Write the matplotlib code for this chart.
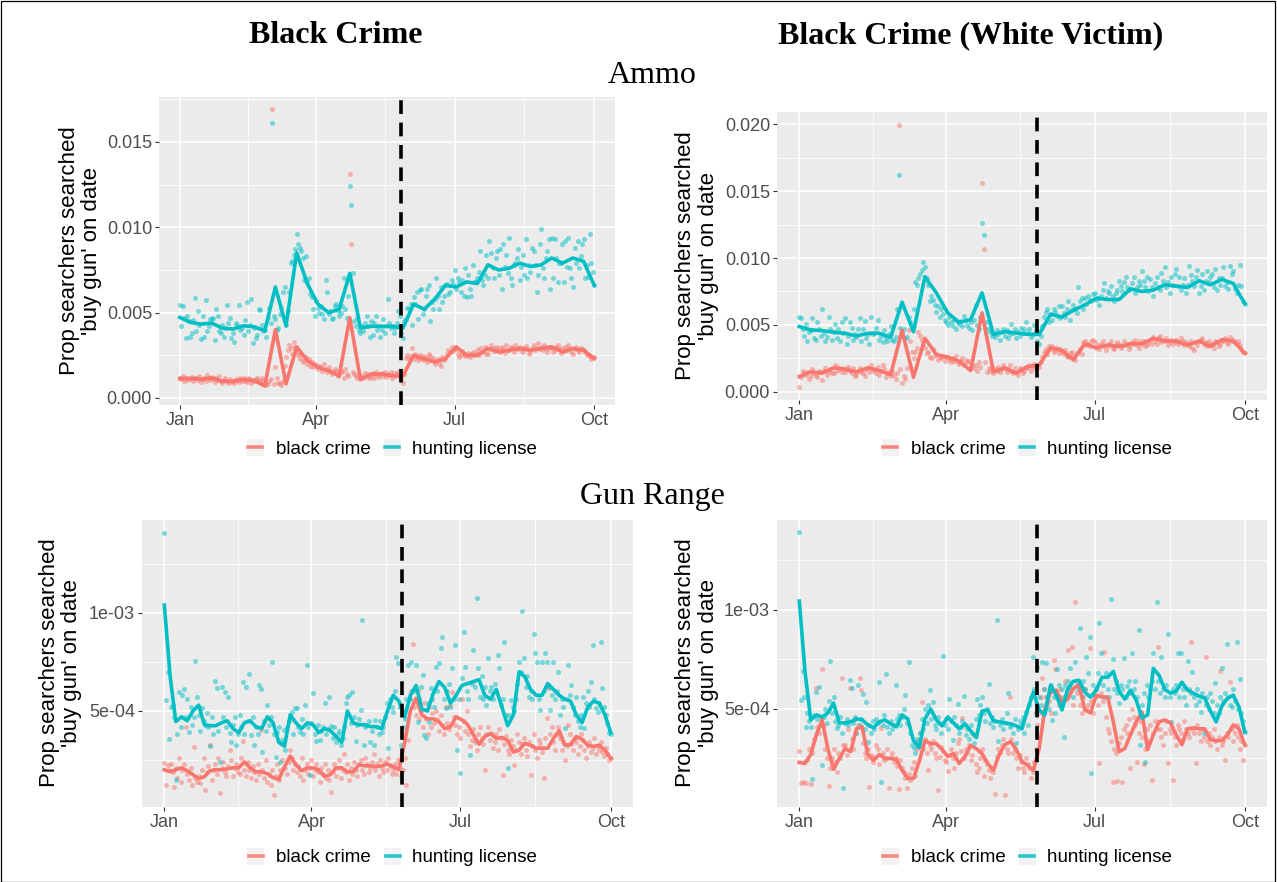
import numpy as np
import matplotlib
matplotlib.use("Agg")
import matplotlib.pyplot as plt
from matplotlib.lines import Line2D
from matplotlib.patches import Rectangle

plt.rcParams['font.family'] = ['Liberation Sans', 'DejaVu Sans']

W, H = 1277, 882
RED = '#F8766D'
CYAN = '#00BFC4'

START = np.datetime64('2015-01-01T00')
EVENT = np.datetime64('2015-05-26T10')

# ---------------- Ammo (units of 1e-5) ----------------
# weekly trend lines, Jan 1 .. Oct 1
ammo_bc_line_black = [114, 114, 110, 118, 98, 98, 108, 102, 70, 400,
                      83, 300, 220, 180, 160, 130, 470, 110, 140, 140,
                      130, 130, 250, 230, 210, 230, 300, 250, 250, 290,
                      270, 280, 290, 280, 290, 300, 270, 290, 280, 230]
ammo_bc_line_hunt = [472, 443, 433, 439, 409, 404, 423, 417, 394, 650,
                     423, 850, 670, 550, 500, 520, 730, 410, 420, 420,
                     420, 410, 550, 520, 580, 660, 650, 680, 670, 780,
                     750, 760, 790, 770, 780, 820, 790, 820, 800, 660]
ammo_bw_line_black = [115, 150, 140, 180, 170, 150, 180, 160, 130, 460,
                      110, 400, 280, 260, 230, 160, 590, 150, 180, 140,
                      190, 200, 330, 310, 240, 360, 330, 350, 340, 360,
                      360, 400, 380, 380, 350, 380, 340, 390, 380, 290]
ammo_bw_line_hunt = [488, 463, 458, 446, 438, 418, 438, 438, 408, 670,
                     450, 860, 740, 590, 520, 540, 740, 430, 450, 440,
                     430, 430, 580, 560, 610, 650, 700, 690, 690, 770,
                     750, 760, 800, 790, 780, 830, 800, 840, 810, 660]

# daily values, Jan 1 .. Oct 1
ammo_bc_daily_hunt = [
    545, 420, 540, 470, 350, 480, 450, 360, 380, 455, 585, 395, 510, 430,
    345, 480, 355, 575, 390, 420, 460, 460, 470, 340, 520, 480, 395, 380,
    430, 360, 410, 545, 440, 470, 350, 380, 330, 440, 430, 545, 400, 410,
    370, 455, 560, 395, 430, 580, 320, 410, 350, 370, 520, 515, 430, 390,
    400, 360, 470, 530, 440, 1610, 480, 460, 400, 410, 490, 530, 620, 650,
    430, 510, 620, 790, 800, 840, 870, 960, 900, 880, 860, 820, 690, 830,
    680, 700, 610, 590, 520, 480, 570, 530, 500, 540, 490, 460, 690, 620,
    490, 510, 460, 470, 540, 550, 510, 480, 500, 540, 700, 520, 470, 600,
    1240, 1130, 730, 450, 420, 470, 400, 380, 420, 390, 440, 480, 420, 360,
    450, 370, 440, 480, 400, 420, 360, 400, 460, 380, 420, 580, 440, 410,
    420, 380, 410, 440, 510, 480, 380, 350, 450, 460, 530, 520, 550, 430,
    590, 550, 620, 460, 630, 640, 490, 520, 600, 640, 660, 450, 560, 520,
    580, 700, 600, 520, 650, 560, 600, 660, 670, 610, 620, 690, 670, 750,
    640, 700, 680, 620, 690, 600, 760, 590, 720, 640, 600, 780, 680, 680,
    700, 740, 860, 690, 660, 720, 840, 700, 920, 850, 760, 700, 820, 860,
    720, 870, 640, 900, 770, 840, 730, 940, 700, 660, 780, 790, 820, 870,
    690, 770, 840, 720, 930, 700, 780, 740, 880, 860, 780, 620, 720, 900,
    990, 760, 700, 820, 860, 930, 640, 940, 700, 930, 820, 680, 790, 790,
    900, 680, 920, 770, 940, 760, 700, 650, 880, 790, 920, 760, 830, 900,
    930, 700, 780, 710, 960, 790, 740, 660]
ammo_bc_daily_black = [
    120, 110, 130, 100, 115, 105, 120, 110, 125, 100, 115, 120, 105, 130,
    95, 110, 120, 100, 135, 115, 105, 125, 110, 95, 120, 105, 130, 100,
    90, 105, 115, 100, 85, 110, 95, 100, 90, 110, 105, 95, 120, 100,
    115, 100, 95, 120, 110, 90, 105, 100, 110, 120, 95, 105, 115, 100,
    90, 75, 80, 100, 110, 1690, 80, 180, 120, 85, 90, 75, 100, 190,
    240, 280, 310, 290, 260, 330, 300, 270, 250, 230, 260, 210, 220, 240,
    200, 230, 190, 210, 180, 200, 190, 170, 190, 180, 160, 200, 170, 150,
    180, 160, 140, 150, 170, 160, 130, 140, 160, 150, 120, 170, 140, 130,
    1310, 900, 150, 140, 130, 120, 140, 110, 130, 120, 145, 125, 140, 115,
    130, 145, 120, 150, 135, 125, 140, 145, 130, 150, 125, 140, 135, 150,
    120, 145, 130, 140, 155, 125, 110, 90, 140, 235, 250, 230, 245, 290,
    230, 260, 240, 220, 250, 230, 245, 225, 240, 210, 260, 245, 220, 235,
    200, 215, 230, 205, 190, 240, 220, 235, 260, 280, 270, 300, 275, 290,
    285, 260, 240, 250, 275, 260, 245, 250, 265, 240, 255, 270, 250, 260,
    280, 250, 290, 270, 275, 300, 260, 260, 285, 310, 290, 275, 300, 280,
    290, 270, 300, 285, 265, 310, 280, 280, 300, 290, 270, 310, 285, 295,
    300, 280, 270, 290, 305, 285, 260, 270, 295, 310, 280, 290, 320, 285,
    300, 280, 310, 290, 270, 295, 300, 290, 270, 280, 300, 310, 285, 265,
    290, 275, 300, 280, 310, 295, 270, 260, 285, 300, 280, 270, 295, 285,
    280, 270, 260, 250, 245, 230, 240, 240]
ammo_bw_daily_hunt = [
    560, 550, 470, 420, 510, 380, 450, 460, 550, 400, 390, 520, 470, 420,
    620, 440, 380, 410, 560, 470, 390, 450, 510, 400, 470, 380, 520, 440,
    550, 360, 420, 520, 480, 390, 430, 410, 470, 550, 380, 470, 530, 400,
    430, 360, 560, 430, 440, 480, 540, 390, 420, 370, 460, 400, 380, 430,
    490, 390, 380, 410, 620, 1620, 480, 440, 470, 400, 410, 560, 520, 480,
    620, 820, 800, 850, 880, 910, 970, 930, 850, 800, 680, 720, 690, 650,
    600, 640, 560, 620, 580, 540, 520, 500, 560, 520, 490, 540, 470, 520,
    510, 530, 490, 570, 540, 500, 480, 520, 460, 540, 650, 500, 470, 560,
    1260, 1170, 480, 520, 470, 450, 420, 440, 410, 460, 430, 390, 450, 470,
    420, 460, 400, 430, 510, 440, 470, 400, 450, 420, 480, 440, 470, 520,
    440, 470, 410, 430, 500, 460, 380, 360, 420, 490, 560, 600, 620, 520,
    580, 540, 620, 600, 570, 640, 550, 640, 590, 560, 620, 680, 540, 610,
    650, 620, 590, 780, 680, 700, 620, 700, 660, 720, 690, 680, 730, 740,
    690, 700, 650, 720, 760, 810, 700, 750, 740, 790, 720, 680, 740, 760,
    830, 790, 750, 820, 860, 780, 760, 770, 810, 860, 740, 780, 830, 800,
    900, 830, 780, 860, 750, 840, 780, 720, 810, 860, 780, 760, 890, 830,
    930, 780, 820, 740, 860, 800, 880, 920, 790, 860, 760, 800, 850, 740,
    800, 940, 870, 830, 790, 860, 910, 740, 790, 880, 760, 830, 900, 820,
    860, 880, 780, 920, 760, 850, 800, 850, 930, 790, 820, 770, 940, 880,
    900, 770, 740, 800, 950, 790, 680, 660]
ammo_bw_daily_black = [
    40, 110, 160, 140, 130, 150, 100, 120, 170, 140, 130, 110, 160, 150,
    90, 160, 180, 130, 150, 170, 140, 140, 200, 160, 190, 170, 150, 180,
    150, 170, 190, 160, 140, 180, 120, 130, 160, 180, 150, 140, 120, 170,
    180, 150, 200, 160, 170, 140, 190, 130, 160, 200, 170, 110, 140, 150,
    120, 160, 130, 100, 140, 1990, 170, 70, 120, 100, 180, 460, 380, 300,
    250, 300, 330, 450, 420, 390, 360, 330, 290, 300, 260, 250, 320, 270,
    280, 240, 260, 250, 270, 230, 260, 260, 240, 220, 250, 230, 270, 220,
    210, 230, 250, 200, 240, 220, 230, 190, 210, 180, 200, 160, 220, 190,
    1560, 1070, 220, 150, 180, 160, 190, 140, 170, 160, 190, 150, 170, 200,
    180, 150, 170, 200, 160, 140, 180, 150, 130, 180, 170, 140, 160, 190,
    180, 200, 160, 190, 210, 170, 200, 190, 220, 260, 300, 320, 280, 340,
    320, 340, 300, 310, 330, 290, 320, 300, 280, 310, 270, 260, 290, 300,
    270, 240, 290, 300, 320, 280, 370, 380, 350, 360, 340, 380, 390, 370,
    330, 350, 320, 360, 380, 340, 310, 340, 360, 380, 330, 320, 350, 370,
    360, 330, 340, 380, 350, 360, 320, 340, 370, 360, 390, 350, 330, 380,
    360, 380, 340, 350, 370, 390, 360, 410, 380, 360, 400, 420, 370, 390,
    380, 400, 350, 370, 390, 360, 380, 390, 360, 370, 400, 380, 350, 370,
    360, 340, 380, 330, 310, 370, 350, 380, 390, 400, 360, 370, 340, 380,
    350, 360, 330, 380, 370, 340, 360, 390, 380, 400, 370, 360, 410, 380,
    390, 370, 360, 380, 350, 320, 300, 290]

# ---------------- Gun Range (units of 1e-6) ----------------
# half-weekly trend lines, Jan 1 .. Oct 1
gun_bc_line_black = [200, 190, 200, 210, 195, 175, 155, 165, 195, 200,
                     200, 205, 210, 210, 240, 210, 190, 190, 180, 160,
                     150, 215, 270, 225, 195, 210, 210, 200, 165, 175,
                     210, 210, 190, 190, 225, 220, 220, 215, 220, 230,
                     215, 200, 340, 500, 565, 480, 460, 460, 445, 410,
                     420, 470, 455, 430, 380, 330, 370, 385, 360, 365,
                     350, 290, 300, 335, 325, 310, 310, 310, 360, 400,
                     325, 330, 370, 355, 325, 320, 325, 300, 260]
gun_bc_line_hunt = [1040, 680, 446, 470, 450, 500, 530, 430, 425, 425,
                    440, 450, 410, 390, 440, 450, 420, 410, 470, 440,
                    340, 320, 480, 440, 410, 440, 430, 390, 410, 400,
                    370, 340, 500, 440, 430, 430, 420, 420, 410, 500,
                    580, 550, 470, 580, 630, 510, 500, 590, 650, 620,
                    540, 580, 630, 640, 650, 660, 580, 560, 610, 520,
                    425, 480, 700, 675, 610, 580, 580, 640, 610, 580,
                    560, 550, 480, 440, 520, 550, 540, 480, 390]
gun_bw_line_black = [230, 225, 270, 370, 445, 300, 195, 250, 300, 285,
                     400, 410, 270, 240, 270, 250, 250, 245, 190, 150,
                     150, 235, 340, 325, 325, 295, 260, 275, 225, 260,
                     315, 300, 275, 225, 190, 270, 320, 335, 295, 235,
                     215, 190, 300, 500, 585, 595, 530, 550, 605, 620,
                     495, 480, 570, 560, 560, 435, 285, 300, 370, 435,
                     485, 295, 370, 435, 445, 430, 370, 320, 400, 405,
                     400, 400, 345, 340, 340, 370, 420, 400, 320]
gun_bw_line_hunt = [1045, 690, 445, 470, 460, 480, 530, 430, 430, 435,
                    450, 445, 420, 405, 435, 445, 425, 410, 470, 450,
                    340, 305, 450, 500, 445, 415, 460, 430, 400, 425,
                    390, 355, 490, 495, 440, 435, 430, 425, 415, 400,
                    500, 585, 495, 470, 620, 570, 495, 600, 640, 645,
                    585, 560, 595, 660, 660, 690, 590, 550, 595, 545,
                    455, 470, 705, 670, 600, 580, 590, 635, 595, 580,
                    565, 555, 490, 435, 515, 555, 570, 510, 385]

gun_bc_daily_hunt = [
    1410, 556, 700, 357, 520, 530, 470, 148, 381, 598,
    420, 580, 610, 471, 560, 391, 522, 430, 470, 755,
    573, 480, 398, 513, 450, 430, 488, 420, 323, 470,
    380, 653, 615, 400, 241, 624, 470, 598, 420, 573,
    390, 343, 430, 470, 326, 380, 479, 420, 649, 380,
    624, 450, 687, 377, 470, 326, 420, 380, 632, 612,
    292, 450, 400, 530, 430, 470, 751, 380, 267, 394,
    420, 241, 350, 403, 300, 420, 450, 470, 496, 380,
    513, 513, 420, 394, 460, 380, 533, 737, 420, 173,
    440, 590, 380, 347, 430, 352, 400, 420, 539, 380,
    410, 573, 425, 360, 420, 343, 380, 400, 326, 360,
    420, 539, 573, 580, 440, 598, 470, 347, 430, 460,
    505, 964, 326, 420, 430, 450, 340, 400, 326, 454,
    420, 380, 450, 394, 420, 470, 539, 309, 560, 520,
    496, 600, 777, 743, 520, 326, 420, 460, 560, 734,
    560, 751, 607, 600, 734, 445, 560, 620, 683, 377,
    360, 540, 445, 615, 560, 520, 726, 600, 743, 819,
    879, 560, 513, 600, 640, 520, 717, 560, 836, 301,
    560, 182, 666, 904, 726, 600, 560, 275, 640, 811,
    620, 1074, 717, 573, 680, 560, 620, 530, 768, 600,
    624, 560, 640, 600, 785, 717, 530, 560, 853, 480,
    207, 480, 556, 522, 500, 560, 640, 751, 700, 1010,
    772, 620, 680, 573, 600, 560, 891, 794, 751, 560,
    505, 751, 600, 794, 751, 620, 505, 580, 751, 560,
    600, 700, 479, 560, 520, 411, 560, 734, 581, 632,
    520, 480, 573, 450, 420, 480, 573, 411, 540, 600,
    520, 649, 836, 560, 513, 496, 540, 853, 615, 520,
    480, 440, 386, 380]
gun_bc_daily_black = [
    233, 122, 224, 200, 228, 190, 114, 210, 160, 262,
    139, 200, 230, 420, 180, 150, 210, 120, 318, 160,
    140, 170, 130, 200, 258, 97, 190, 220, 326, 150,
    200, 230, 180, 260, 80, 210, 240, 190, 170, 220,
    300, 250, 170, 210, 230, 190, 180, 260, 347, 200,
    170, 240, 200, 160, 220, 190, 150, 230, 180, 403,
    200, 160, 250, 140, 180, 120, 200, 71, 170, 230,
    150, 200, 250, 343, 210, 180, 240, 300, 258, 200,
    230, 190, 220, 170, 260, 150, 200, 230, 180, 210,
    250, 170, 200, 230, 190, 140, 210, 180, 230, 160,
    200, 150, 88, 190, 230, 170, 210, 250, 160, 200,
    280, 190, 230, 150, 210, 180, 240, 200, 170, 230,
    250, 200, 180, 260, 230, 190, 210, 240, 280, 200,
    230, 170, 250, 210, 190, 240, 200, 260, 220, 180,
    200, 230, 180, 250, 210, 170, 200, 260, 120, 350,
    560, 600, 840, 520, 480, 600, 460, 500, 420, 540,
    460, 380, 520, 420, 488, 440, 500, 460, 400, 479,
    430, 380, 520, 440, 410, 530, 598, 470, 430, 380,
    420, 360, 560, 450, 400, 500, 380, 320, 350, 410,
    340, 300, 380, 420, 360, 330, 199, 380, 420, 350,
    390, 310, 340, 380, 300, 410, 360, 173, 330, 370,
    300, 280, 350, 320, 224, 300, 380, 340, 280, 330,
    360, 300, 270, 340, 173, 320, 380, 300, 260, 350,
    330, 290, 156, 360, 462, 615, 380, 420, 340, 300,
    380, 420, 360, 300, 340, 250, 320, 428, 380, 330,
    300, 360, 340, 280, 320, 380, 350, 300, 260, 320,
    340, 290, 310, 360, 280, 320, 300, 340, 290, 270,
    310, 280, 250, 260]
gun_bw_daily_hunt = [
    1392, 545, 692, 560, 411, 480, 440, 411, 146, 470,
    587, 450, 609, 420, 217, 460, 500, 430, 540, 744,
    480, 562, 440, 402, 420, 460, 380, 103, 430, 450,
    420, 646, 604, 430, 460, 380, 621, 420, 450, 574,
    400, 537, 335, 420, 380, 440, 400, 450, 430, 638,
    133, 420, 470, 677, 410, 380, 440, 400, 420, 621,
    450, 470, 420, 460, 500, 571, 430, 739, 380, 320,
    301, 280, 350, 320, 380, 450, 400, 500, 430, 520,
    596, 450, 534, 420, 400, 460, 430, 380, 769, 420,
    450, 400, 549, 440, 343, 460, 420, 524, 380, 410,
    440, 566, 370, 400, 350, 420, 380, 330, 450, 549,
    470, 520, 560, 480, 440, 500, 625, 430, 460, 410,
    440, 950, 340, 420, 450, 400, 430, 480, 579, 410,
    420, 380, 450, 327, 400, 440, 420, 460, 380, 487,
    420, 520, 560, 764, 600, 480, 714, 560, 520, 739,
    600, 731, 560, 500, 620, 444, 560, 480, 702, 620,
    560, 600, 360, 620, 560, 640, 709, 600, 560, 739,
    620, 600, 907, 560, 640, 600, 764, 680, 865, 175,
    620, 560, 600, 680, 933, 781, 620, 560, 680, 600,
    560, 1054, 752, 600, 640, 580, 529, 620, 600, 756,
    560, 618, 640, 580, 781, 600, 640, 560, 899, 318,
    520, 580, 234, 620, 560, 600, 640, 781, 600, 1042,
    640, 580, 764, 600, 560, 620, 877, 560, 436, 600,
    580, 620, 781, 560, 781, 600, 560, 520, 744, 600,
    580, 689, 560, 520, 600, 540, 487, 580, 377, 520,
    560, 500, 579, 540, 480, 630, 520, 480, 560, 705,
    540, 580, 827, 560, 520, 512, 600, 540, 840, 500,
    652, 480, 440, 385]
gun_bw_daily_black = [
    288, 125, 133, 230, 125, 240, 300, 120, 280, 350,
    604, 411, 380, 460, 700, 420, 300, 250, 113, 200,
    250, 300, 230, 180, 280, 250, 658, 320, 318, 270,
    400, 608, 350, 300, 450, 380, 420, 658, 596, 330,
    280, 250, 300, 108, 270, 230, 260, 320, 300, 220,
    402, 280, 240, 250, 300, 99, 260, 280, 230, 250,
    210, 96, 240, 200, 180, 150, 99, 170, 140, 200,
    230, 160, 300, 340, 380, 537, 300, 350, 280, 192,
    320, 300, 340, 280, 250, 91, 260, 310, 290, 240,
    230, 187, 270, 300, 250, 200, 280, 330, 350, 290,
    456, 250, 300, 280, 320, 240, 270, 369, 220, 180,
    200, 250, 300, 160, 240, 220, 190, 150, 200, 180,
    69, 260, 300, 280, 320, 350, 66, 300, 280, 562,
    350, 280, 300, 250, 204, 270, 230, 200, 180, 250,
    220, 200, 150, 180, 230, 300, 420, 480, 560, 658,
    600, 560, 520, 540, 480, 600, 747, 702, 560, 520,
    600, 540, 560, 640, 580, 798, 600, 815, 520, 1042,
    580, 640, 520, 480, 560, 600, 500, 520, 806, 540,
    480, 560, 600, 520, 226, 580, 540, 790, 460, 400,
    380, 340, 133, 300, 280, 136, 330, 360, 133, 400,
    420, 380, 450, 204, 500, 460, 420, 234, 380, 440,
    360, 221, 300, 400, 340, 420, 141, 380, 440, 400,
    815, 400, 360, 320, 380, 440, 226, 400, 380, 141,
    360, 320, 420, 400, 380, 350, 440, 400, 380, 360,
    837, 400, 380, 226, 420, 380, 340, 400, 360, 764,
    340, 380, 320, 360, 400, 340, 300, 360, 692, 320,
    340, 242, 380, 360, 638, 400, 340, 380, 420, 360,
    300, 340, 242, 320]

series_names = ['black crime', 'hunting license']
month_labels = ['Jan', 'Apr', 'Jul', 'Oct']
ammo_tick_labels = ['0.000', '0.005', '0.010', '0.015', '0.020']
gun_tick_labels = ['5e-04', '1e-03']


def hours(h):
    return np.timedelta64(int(round(h)), 'h')


daily_dates = START + np.arange(274) * np.timedelta64(1, 'D')
weekly_dates = START + np.arange(40) * np.timedelta64(7, 'D')
halfweek_dates = START + np.arange(79) * np.timedelta64(84, 'h')

month_ticks = [np.datetime64(d + 'T00') for d in
               ('2015-01-01', '2015-04-01', '2015-07-01', '2015-10-01')]
minor_ticks = [START + hours(45 * 24), START + hours(135.5 * 24),
               START + hours(227 * 24)]
pad = hours(273 * 24 * 0.05)

fig = plt.figure(figsize=(W / 100, H / 100), dpi=100)


def px_rect(x0, y0, x1, y1):
    return [x0 / W, 1 - y1 / H, (x1 - x0) / W, (y1 - y0) / H]


def draw_panel(rect, line_dates, black_line, hunt_line, black_daily, hunt_daily,
               unit, ylim, yticks, ylabels, yminor):
    ax = fig.add_axes(px_rect(*rect))
    ax.set_facecolor('#EBEBEB')
    for sp in ax.spines.values():
        sp.set_visible(False)
    ax.set_axisbelow(True)

    bd = np.array(black_daily) * unit
    hd = np.array(hunt_daily) * unit
    ax.scatter(daily_dates, bd, s=13, color=RED, alpha=0.5, linewidths=0, zorder=2)
    ax.scatter(daily_dates, hd, s=13, color=CYAN, alpha=0.5, linewidths=0, zorder=2)
    ax.plot(line_dates, np.array(black_line) * unit, color=RED, lw=2.6,
            solid_joinstyle='round', zorder=3)
    ax.plot(line_dates, np.array(hunt_line) * unit, color=CYAN, lw=2.6,
            solid_joinstyle='round', zorder=3)
    ax.axvline(EVENT, color='black', lw=2.6, dashes=(3.8, 2.4), zorder=4)

    ax.set_xlim(START - pad, month_ticks[-1] + pad)
    ax.set_ylim(*ylim)
    ax.set_xticks(month_ticks)
    ax.set_xticklabels(month_labels)
    ax.set_xticks(minor_ticks, minor=True)
    ax.set_yticks(yticks)
    ax.set_yticklabels(ylabels)
    ax.set_yticks(yminor, minor=True)
    ax.grid(which='major', color='white', lw=1.1)
    ax.grid(which='minor', color='white', lw=0.55)
    ax.tick_params(which='minor', length=0)
    ax.tick_params(which='major', length=3, width=0.8, color='#333333',
                   labelcolor='#4D4D4D', labelsize=13, pad=2)
    return ax


def draw_legend(cx, cy):
    for dx, col, dtx, name in ((-132, RED, -111, series_names[0]),
                               (5, CYAN, 25, series_names[1])):
        kx = cx + dx
        fig.add_artist(Rectangle(((kx - 8.5) / W, 1 - (cy + 8.5) / H), 17 / W, 17 / H,
                                 transform=fig.transFigure, facecolor='#F2F2F2',
                                 edgecolor='none'))
        fig.add_artist(Line2D([(kx - 7) / W, (kx + 7) / W], [1 - cy / H, 1 - cy / H],
                              transform=fig.transFigure, color=col, lw=2.6, alpha=0.85))
        fig.text((cx + dtx) / W, 1 - cy / H, name, ha='left', va='center_baseline',
                 fontsize=13.5, color='black')


def ylabel(x, y):
    fig.text(x / W, 1 - y / H, "Prop searchers searched\n'buy gun' on date",
             rotation=90, ha='center', va='center', multialignment='center',
             fontsize=16, linespacing=1.1, color='black')


ammo_u, gun_u = 1e-5, 1e-6

draw_panel((159, 97, 615, 405), weekly_dates, ammo_bc_line_black, ammo_bc_line_hunt,
           ammo_bc_daily_black, ammo_bc_daily_hunt, ammo_u, (-0.00041, 0.01763),
           [0, 0.005, 0.010, 0.015], ammo_tick_labels[:4], [0.0025, 0.0075, 0.0125, 0.0175])
draw_panel((777, 112, 1267, 400), weekly_dates, ammo_bw_line_black, ammo_bw_line_hunt,
           ammo_bw_daily_black, ammo_bw_daily_hunt, ammo_u, (-0.0006, 0.0209),
           [0, 0.005, 0.010, 0.015, 0.020], ammo_tick_labels, [0.0025, 0.0075, 0.0125, 0.0175])
draw_panel((142, 520, 633, 807), halfweek_dates, gun_bc_line_black, gun_bc_line_hunt,
           gun_bc_daily_black, gun_bc_daily_hunt, gun_u, (1.0e-5, 1.4745e-3),
           [5e-4, 1e-3], gun_tick_labels, [2.5e-4, 7.5e-4, 1.25e-3])
draw_panel((777, 520, 1267, 807), halfweek_dates, gun_bw_line_black, gun_bw_line_hunt,
           gun_bw_daily_black, gun_bw_daily_hunt, gun_u, (5e-6, 1.4545e-3),
           [5e-4, 1e-3], gun_tick_labels, [2.5e-4, 7.5e-4, 1.25e-3])

ylabel(80.5, 251)
ylabel(697, 256)
ylabel(60.5, 663)
ylabel(697, 663)

draw_legend(387, 447)
draw_legend(1022, 447)
draw_legend(387.5, 856)
draw_legend(1022, 856)

serif = ['Liberation Serif', 'DejaVu Serif']
fig.text(336 / W, 1 - 43 / H, 'Black Crime', ha='center', va='baseline',
         fontsize=23, fontweight='bold', family=serif)
fig.text(971 / W, 1 - 43 / H, 'Black Crime (White Victim)', ha='center', va='baseline',
         fontsize=23, fontweight='bold', family=serif)
fig.text(652 / W, 1 - 83 / H, 'Ammo', ha='center', va='baseline', fontsize=23, family=serif)
fig.text(652 / W, 1 - 504 / H, 'Gun Range', ha='center', va='baseline', fontsize=23,
         family=serif)

fig.add_artist(Rectangle((0.5 / W, 0.5 / H), 1274 / W, 881 / H, transform=fig.transFigure,
                         facecolor='none', edgecolor='black', lw=0.9))

fig.savefig('out.png', dpi=100)
